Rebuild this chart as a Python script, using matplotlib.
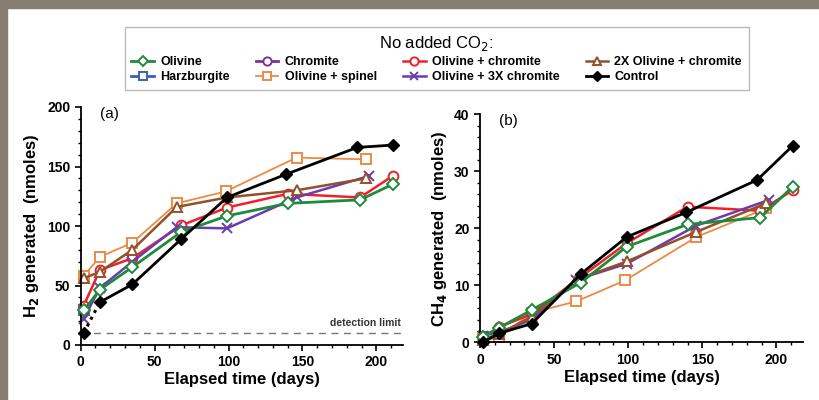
import matplotlib.pyplot as plt
from matplotlib.patches import Rectangle
from matplotlib.ticker import MultipleLocator

plt.rcParams['font.family'] = ['Liberation Sans', 'DejaVu Sans']

days_ctrl = [2, 13, 35, 68, 99, 139, 187, 211]
h2_ctrl = [10, 36, 51, 89, 124, 143.5, 166, 168]
ch4_ctrl = [0, 1.6, 3.3, 12, 18.5, 22.8, 28.5, 34.5]

days_oliv = [2, 13, 35, 68, 99, 140, 189, 211]
h2_oliv = [29, 46.5, 65.5, 95, 108.5, 119, 122, 135]
ch4_oliv = [0.9, 2.6, 5.7, 10.5, 16.8, 20.7, 21.9, 27.3]

days_ochr = [2, 13, 35, 68, 99, 140, 189, 211]
h2_ochr = [33, 63, 73, 100.5, 115.5, 127, 124, 142]
ch4_ochr = [1.0, 2.7, 5.0, 11.5, 17.4, 23.8, 23.1, 26.7]

days_spin = [2, 13, 35, 65, 98, 146, 193]
h2_spin = [58, 74, 86, 119, 129, 157.5, 156]
ch4_spin = [0.7, 0.9, 5.2, 7.2, 10.9, 18.5, 23.5]

days_2x = [2, 13, 35, 65, 99, 146, 193]
h2_2x = [56, 61.5, 80, 116, 124, 130, 140]
ch4_2x = [0.5, 1.5, 4.5, 11, 14.2, 19.4, 24.4]

days_3x = [2, 13, 35, 65, 99, 146, 195]
h2_3x = [22, 48, 70, 99, 98, 124, 142]
ch4_3x = [1.2, 1.8, 4.0, 11, 13.8, 20.5, 25]

# hidden under the other early points
days_harz = [2]
h2_harz = [29]
ch4_harz = [0.9]

days_chr = [2]
h2_chr = [29]
ch4_chr = [0.9]

det_limit = 10

series = [
    # label, days, h2, ch4, color, marker, facecolor, lw, zorder
    ("Olivine", days_oliv, h2_oliv, ch4_oliv, "#1f8a3a", "D", "white", 2.0, 3),
    ("Harzburgite", days_harz, h2_harz, ch4_harz, "#3b5fc0", "s", "white", 2.0, 1),
    ("Chromite", days_chr, h2_chr, ch4_chr, "#80309a", "o", "white", 2.0, 1),
    ("Olivine + spinel", days_spin, h2_spin, ch4_spin, "#ec8a45", "s", "white", 1.3, 2),
    ("Olivine + chromite", days_ochr, h2_ochr, ch4_ochr, "#f0202a", "o", "white", 1.8, 2),
    ("Olivine + 3X chromite", days_3x, h2_3x, ch4_3x, "#6a3cb0", "x", "none", 1.8, 2),
    ("2X Olivine + chromite", days_2x, h2_2x, ch4_2x, "#94502a", "^", "white", 1.8, 2),
]

fig = plt.figure(figsize=(8.2, 4.0), dpi=100)
fig.patches.append(Rectangle((0, 1 - 8 / 400), 1, 8 / 400, transform=fig.transFigure,
                             color="#877c70", zorder=0))
fig.patches.append(Rectangle((0, 0), 7 / 820, 1, transform=fig.transFigure,
                             color="#877c70", zorder=0))

ax1 = fig.add_axes([0.0984, 0.1375, 0.393, 0.595])
ax2 = fig.add_axes([0.5854, 0.144, 0.394, 0.57])

handles = []
for ax, key in [(ax1, 2), (ax2, 3)]:
    for s in series:
        ms = 7.5 if s[5] == "s" else 7
        if s[5] == "D":
            ms = 6.5
        h, = ax.plot(s[1], s[key], color=s[4], marker=s[5], mfc=s[6], mec=s[4],
                     ms=ms, mew=1.4, lw=s[7], label=s[0], clip_on=False, zorder=s[8])
        if ax is ax1:
            handles.append(h)
    if ax is ax1:
        ctrl = h2_ctrl
        ax.plot(days_ctrl[:2], ctrl[:2], color="black", lw=2.2, ls=(0, (1, 1.5)), zorder=4)
        h, = ax.plot(days_ctrl[1:], ctrl[1:], color="black", marker="D", ms=6.5,
                     lw=2.0, zorder=5, label="Control", clip_on=False)
        ax.plot(days_ctrl[:1], ctrl[:1], color="black", marker="D", ms=6.5, lw=0,
                zorder=5, clip_on=False)
        handles.append(h)
    else:
        ax.plot(days_ctrl, ch4_ctrl, color="black", marker="D", ms=6.5, lw=2.0, zorder=5,
                clip_on=False)

    ax.set_xlim(0, 218)
    ax.xaxis.set_major_locator(MultipleLocator(50))
    ax.xaxis.set_minor_locator(MultipleLocator(10))
    ax.spines["top"].set_visible(False)
    ax.spines["right"].set_visible(False)
    ax.spines["left"].set_linewidth(1.3)
    ax.spines["bottom"].set_linewidth(1.3)
    ax.tick_params(which="major", direction="out", length=4, width=1.2, labelsize=10)
    ax.tick_params(which="minor", direction="out", length=2.5, width=1.0)
    ax.set_xlabel("Elapsed time (days)", fontsize=12, fontweight="bold", labelpad=2)

ax1.set_ylim(0, 200)
ax1.yaxis.set_major_locator(MultipleLocator(50))
ax1.yaxis.set_minor_locator(MultipleLocator(10))
ax1.set_ylabel("H$_\\mathbf{2}$ generated  (nmoles)", fontsize=12, fontweight="bold")
ax1.axhline(det_limit, color="#777777", lw=1.0, ls=(0, (5, 4)), zorder=1)
ax1.text(0.995, det_limit + 4, "detection limit", transform=ax1.get_yaxis_transform(),
         ha="right", va="bottom", fontsize=7.5, fontweight="bold", color="#333333")
ax1.text(0.06, 0.97, "(a)", transform=ax1.transAxes, fontsize=11, va="center")

ax2.set_ylim(0, 40)
ax2.yaxis.set_major_locator(MultipleLocator(10))
ax2.yaxis.set_minor_locator(MultipleLocator(2))
ax2.set_ylabel("CH$_\\mathbf{4}$ generated  (nmoles)", fontsize=12, fontweight="bold")
ax2.text(0.06, 0.97, "(b)", transform=ax2.transAxes, fontsize=11, va="center")

for ax in (ax1, ax2):
    for lab in ax.get_xticklabels() + ax.get_yticklabels():
        lab.set_fontweight("bold")

leg = fig.legend(handles=handles, loc="upper center", bbox_to_anchor=(0.5325, 0.948),
                 ncol=4, title="No added CO$_2$:", title_fontsize=12,
                 prop={"weight": "bold", "size": 9}, fancybox=False,
                 edgecolor="#aaaaaa", handlelength=1.8, columnspacing=2.1,
                 handletextpad=0.5, borderpad=0.55, labelspacing=0.25, markerscale=0.85)
leg.get_frame().set_linewidth(1.0)

fig.savefig("out.png", dpi=100, facecolor="white")
